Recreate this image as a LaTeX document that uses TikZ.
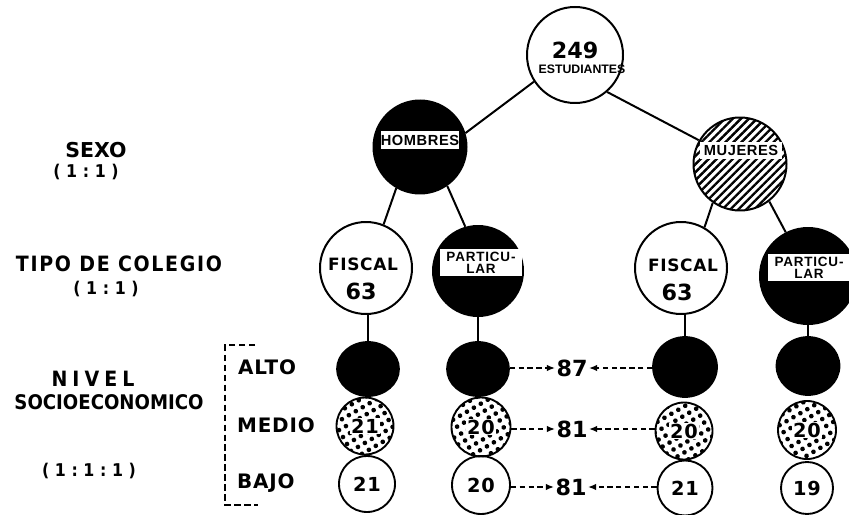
\documentclass[tikz,border=0pt]{standalone}
\usepackage{fontspec}
\setmainfont{DejaVu Sans}
\newfontfamily\narrowfont{Liberation Sans}
\newfontfamily\semifont{DejaVu Sans Condensed}
\usetikzlibrary{patterns.meta,arrows.meta,shapes.geometric}
\newcommand\pxu{0.03cm}

\tikzset{
  ring/.style={circle,draw,line width=1.7pt,inner sep=0pt},
  oval/.style={ellipse,draw,line width=1.5pt,inner sep=0pt,fill=black},
  small/.style={circle,draw,line width=1.6pt,inner sep=0pt},
  dotty/.style={small,pattern={Dots[radius=0.07cm,distance=0.24cm,angle=30]}},
  hatchy/.style={pattern={Lines[angle=45,distance=0.17cm,line width=0.07cm]}},
  tag/.style={fill=white,inner sep=0pt,align=center,
    font=\narrowfont\bfseries\fontsize{12.5}{10.5}\selectfont\addfontfeature{LetterSpace=4}},
  tag2/.style={tag,font=\narrowfont\bfseries\fontsize{11.5}{10.5}\selectfont\addfontfeature{LetterSpace=6}},
  sidetxt/.style={inner sep=0pt,font=\semifont\bfseries\fontsize{18}{20}\selectfont},
  ratio/.style={inner sep=0pt,font=\semifont\bfseries\fontsize{15}{16}\selectfont\addfontfeature{LetterSpace=32}},
  lvl/.style={anchor=west,inner sep=0pt,font=\bfseries\fontsize{17}{18}\selectfont\addfontfeature{LetterSpace=4}},
  num/.style={inner sep=0.8pt,font=\bfseries\fontsize{16.5}{17}\selectfont\addfontfeature{LetterSpace=4}},
  bignum/.style={inner sep=1pt,font=\bfseries\fontsize{19}{20}\selectfont},
  kind/.style={inner sep=0pt,font=\bfseries\fontsize{14.5}{16}\selectfont\addfontfeature{LetterSpace=4}},
  link/.style={line width=1.7pt},
  tie/.style={line width=1.3pt,dash pattern=on 4.5pt off 3pt,-{Latex[length=7pt,width=5.5pt]}},
  brace/.style={line width=1.3pt,dash pattern=on 5.5pt off 3pt}
}

\begin{document}
\begin{tikzpicture}[x=\pxu,y=-\pxu]
\useasboundingbox (0,0) rectangle (849,515);

% ---- top level ----
\node[ring,minimum size=96*\pxu] (tot) at (575,55) {};
\node[bignum] (tot249) at (575,50) {249};
\node[inner sep=0pt,font=\narrowfont\bfseries\fontsize{10.5}{12}\selectfont] (totlab) at (582,69) {ESTUDIANTES};

% ---- sex ----
\node[ring,fill=black,minimum size=93*\pxu] (hom) at (420,147) {};
\node[tag,minimum width=75*\pxu,minimum height=18*\pxu] (homlab) at (420,140) {HOMBRES};
\node[ring,hatchy,minimum size=93*\pxu] (muj) at (740,164) {};
\node[tag,minimum width=82*\pxu,minimum height=17*\pxu] (mujlab) at (741,150.5) {MUJERES};

% ---- school type ----
\node[ring,minimum size=92*\pxu] (fisL) at (366,268) {};
\node[kind] (fisLlab) at (363,264) {FISCAL};
\node[bignum] (fisLn) at (361,291) {63};
\node[ring,fill=black,minimum size=90*\pxu] (parL) at (478,271) {};
\node[tag2,minimum width=82*\pxu,minimum height=27*\pxu] (parLlab) at (481,262.5) {PARTICU-\\LAR};

\node[ring,minimum size=92*\pxu] (fisR) at (681,268) {};
\node[kind] (fisRlab) at (683,265) {FISCAL};
\node[bignum] (fisRn) at (677,292) {63};
\node[ring,fill=black,minimum size=96*\pxu] (parR) at (808,276) {};
\node[tag2,minimum width=82*\pxu,minimum height=27*\pxu] (parRlab) at (809,267.5) {PARTICU-\\LAR};

% ---- socio-economic level ----
\node[oval,minimum width=62*\pxu,minimum height=54*\pxu] (a1) at (368,369) {};
\node[dotty,minimum size=57*\pxu] (m1) at (365,426) {};
\node[small,minimum size=56*\pxu] (b1) at (367,484) {};
\node[oval,minimum width=62*\pxu,minimum height=54*\pxu] (a2) at (478,369) {};
\node[dotty,minimum size=59*\pxu] (m2) at (481,427) {};
\node[small,minimum size=58*\pxu] (b2) at (481,485) {};
\node[oval,minimum width=64*\pxu,minimum height=60*\pxu] (a3) at (685,367) {};
\node[dotty,minimum size=57*\pxu] (m3) at (684,431) {};
\node[small,minimum size=55*\pxu] (b3) at (685,488) {};
\node[oval,minimum width=63*\pxu,minimum height=58*\pxu] (a4) at (808,366) {};
\node[dotty,minimum size=58*\pxu] (m4) at (807,430) {};
\node[small,minimum size=52*\pxu] (b4) at (807,488) {};

\node[num,fill=white] (m1n) at (m1) {21};
\node[num] (b1n) at (b1) {21};
\node[num,fill=white] (m2n) at (m2) {20};
\node[num] (b2n) at (b2) {20};
\node[num,fill=white] (m3n) at (m3) {20};
\node[num] (b3n) at (b3) {21};
\node[num,fill=white] (m4n) at (m4) {20};
\node[num] (b4n) at (b4) {19};

% ---- tree connectors ----
\draw[link] (tot.213) -- (hom.17);
\draw[link] (tot.311) -- (muj.150);
\draw[link] (hom.240) -- (fisL.68);
\draw[link] (hom.305) -- (parL.106);
\draw[link] (muj.235) -- (fisR.60);
\draw[link] (muj.308) -- (parR.117);
\draw[link] (a1.north) -- (a1.north |- fisL.south);
\draw[link] (a2.north) -- (a2.north |- parL.south);
\draw[link] (a3.north) -- (a3.north |- fisR.south);
\draw[link] (a4.north) -- (a4.north |- parR.south);

% ---- totals per level ----
\node[bignum] (t87) at (572,368) {87};
\node[bignum] (t81a) at (572,429) {81};
\node[bignum] (t81b) at (571,487) {81};
\draw[tie] (a2.east |- t87) -- (t87.west);
\draw[tie] (a3.west |- t87) -- (t87.east);
\draw[tie] (m2.east |- t81a) -- (t81a.west);
\draw[tie] (m3.west |- t81a) -- (t81a.east);
\draw[tie] (b2.east |- t81b) -- (t81b.west);
\draw[tie] (b3.west |- t81b) -- (t81b.east);

% ---- side labels ----
\node[inner sep=0pt,font=\bfseries\fontsize{17.5}{18}\selectfont] (sexo) at (96,150) {SEXO};
\node[ratio] (sexor) at (86,172) {(1:1)};
\node[sidetxt,font=\semifont\bfseries\fontsize{18}{20}\selectfont\addfontfeature{LetterSpace=8}] (tipo) at (119,264) {TIPO DE COLEGIO};
\node[ratio] (tipor) at (106,289) {(1:1)};
\node[sidetxt,font=\semifont\bfseries\fontsize{18}{20}\selectfont\addfontfeature{LetterSpace=24}] (nivel) at (93,379) {NIVEL};
\node[sidetxt,font=\semifont\bfseries\fontsize{17.2}{20}\selectfont] (socio) at (109,402) {SOCIOECONOMICO};
\node[ratio] (nivelr) at (89,471) {(1:1:1)};

\node[lvl] (alto) at (238,367) {ALTO};
\node[lvl] (medio) at (237,425) {MEDIO};
\node[lvl] (bajo) at (237,483) {BAJO};

% dashed bracket grouping the three levels
\draw[brace] (255,345) -- (225,345) -- (225,505) -- (258,505);
\end{tikzpicture}
\end{document}
